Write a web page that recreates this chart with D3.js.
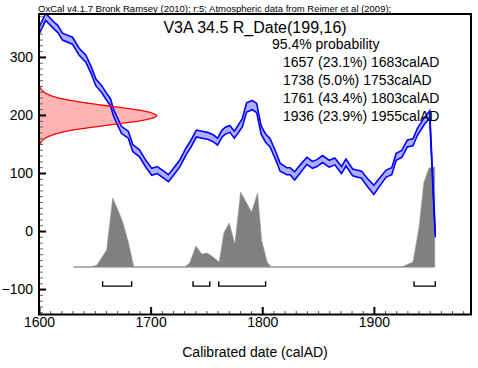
<!DOCTYPE html>
<html><head><meta charset="utf-8">
<script src="https://cdn.jsdelivr.net/npm/d3@7"></script>
<style>body{margin:0;background:#fff}svg{display:block}text{font-family:"Liberation Sans",Arial,sans-serif;fill:#000}</style>
</head><body><svg id="c" width="478" height="368"></svg>
<script>
// ---- data ----
const headerText = "OxCal v4.1.7 Bronk Ramsey (2010); r:5; Atmospheric data from Reimer et al (2009);";
const titleText = "V3A 34.5 R_Date(199,16)";
const probLabel = "95.4% probability";
const rangeFrom = [1657, 1738, 1761, 1936];
const rangeTo = [1683, 1753, 1803, 1955];
const rangePct = ["23.1%", "5.0%", "43.4%", "23.9%"];
const xTicks = [1600, 1700, 1800, 1900];
const yTicks = [-100, 0, 100, 200, 300];
const xLabel = "Calibrated date (calAD)";

// calibration curve
const calYears = [1600,1606,1614,1617,1621,1630,1636,1642,1647,1651,1656,1660,1664,1667,1671,1674,1680,1684,1690,1696,1701,1706,1711,1716,1720,1726,1732,1736,1741,1746,1751,1756,1760,1764,1767,1771,1775,1782,1786,1791,1795,1799,1803,1807,1812,1816,1822,1825,1829,1834,1840,1845,1849,1854,1860,1865,1871,1875,1881,1889,1894,1900,1905,1911,1916,1920,1925,1930,1935,1939,1945,1950,1955];
const calValues = [345,369,353,348,335,328,309,297,276,256,245,233,222,203,186,174,166,143,134,115,102,105,98,91,101,116,138,150,168,166,164,160,154,168,173,176,166,186,213,217,212,174,160,152,130,110,103,103,95,107,121,114,117,124,116,120,105,118,101,97,84,71,84,99,103,128,133,151,153,171,189,201,-8];
const calSigmas = [6,6,6,6,6,6,6,6,6,6,6,6,6,6,6,6,6,6,6,6,6,6,6,6,6,6,6,6,6,6,6,6,6,6,6,6,6,7,8,8,8,7,7,7,7,7,6,6,7,7,6,6,6,6,6,6,6,6,6,6,7,8,7,6,6,6,6,6,6,6,6,6,3];

// radiocarbon measurement R_Date(199,16): relative likelihood at each age
const c14Ages = [147,150,155,160,165,170,175,180,185,190,195,199,205,210,215,220,225,230,235,240,245,250];
const c14Dens = [0.005,0.009,0.023,0.051,0.105,0.193,0.325,0.494,0.682,0.854,0.969,1.0,0.932,0.789,0.607,0.423,0.267,0.153,0.080,0.038,0.016,0.006];

// posterior calibrated distribution (relative heights)
const distYears = [1631,1647,1652,1660.6,1666,1670.7,1675,1680,1685,1730.7,1735,1740.6,1745.7,1750.7,1756,1761.4,1765.6,1770.4,1775.5,1780.6,1790.4,1795.8,1799.4,1804.4,1808,1925,1935,1940.5,1944.7,1949.4,1954.5,1954.5];
const distProbs = [0,0,2,17,69,57,45,25,0,0,4,21,13,14,10,5,34,44,23,75,55,74,27,5,0,0,5,40,84,99,100,0];

// ---- drawing ----
const svg = d3.select("#c");
const L = 39, R = 471, T = 14, B = 314;
const x = d3.scaleLinear().domain([1600, 1987]).range([L, R]);
const y = d3.scaleLinear().domain([-143, 374]).range([B, T]);

svg.append("defs").append("clipPath").attr("id","clip")
  .append("rect").attr("x",L).attr("y",T).attr("width",R-L).attr("height",B-T);
const plot = svg.append("g").attr("clip-path","url(#clip)");

// distribution
const baseV = -62;
const py = d3.scaleLinear().domain([0,100]).range([y(baseV), y(baseV)-100]);
plot.append("line").attr("x1",x(distYears[0])).attr("x2",x(distYears[distYears.length-1]))
  .attr("y1",py(0)).attr("y2",py(0)).attr("stroke","#c4c4c4").attr("stroke-width",2);
const dist = distYears.map((t,i)=>({t, p: distProbs[i]}));
plot.append("path").datum(dist)
  .attr("d", d3.area().x(d=>x(d.t)).y0(py(0)).y1(d=>py(d.p)))
  .attr("fill","#808080").attr("stroke","#9a9a9a").attr("stroke-width",0.6);

// brackets
const brY = y(-95);
rangeFrom.forEach((f,i)=>{
  plot.append("path")
    .attr("d", `M${x(f)},${brY-5}V${brY}H${x(rangeTo[i])}V${brY-5}`)
    .attr("fill","none").attr("stroke","#000").attr("stroke-width",1.4);
});

// red likelihood
const rx = d3.scaleLinear().domain([0,1]).range([L, 157]);
const c14 = c14Ages.map((v,i)=>({v, p: c14Dens[i]}));
plot.append("path").datum(c14)
  .attr("d", d3.area().y(d=>y(d.v)).x0(L).x1(d=>rx(d.p)).curve(d3.curveCatmullRom))
  .attr("fill","#ffb4b4");

// calibration curve band
const cal = calYears.map((t,i)=>({t, v: calValues[i], s: calSigmas[i]}));
plot.append("path").datum(cal)
  .attr("d", d3.area().x(d=>x(d.t)).y0(d=>y(d.v-d.s)).y1(d=>y(d.v+d.s)))
  .attr("fill","#aeaeff");
["+","-"].forEach(sg=>{
  plot.append("path").datum(cal)
    .attr("d", d3.line().x(d=>x(d.t)).y(d=>y(sg==="+" ? d.v+d.s : d.v-d.s)))
    .attr("fill","none").attr("stroke","#0000ff").attr("stroke-width",1.6);
});
plot.append("path").datum(c14)
  .attr("d", d3.line().y(d=>y(d.v)).x(d=>rx(d.p)).curve(d3.curveCatmullRom))
  .attr("fill","none").attr("stroke","#ff0000").attr("stroke-width",1.3);

// texts
svg.append("text").attr("x",L-1).attr("y",12).attr("font-size","9.5px").text(headerText);
svg.append("text").attr("x",(L+R)/2).attr("y",33).attr("text-anchor","middle").attr("font-size","16px").text(titleText);
svg.append("text").attr("x",272).attr("y",49).attr("font-size","14px").text(probLabel);
rangeFrom.forEach((f,i)=>{
  svg.append("text").attr("x",283).attr("y",67+18*i).attr("font-size","14px")
    .text(`${f} (${rangePct[i]}) ${rangeTo[i]}calAD`);
});
svg.append("text").attr("x",(L+R)/2).attr("y",357).attr("text-anchor","middle").attr("font-size","14px").text(xLabel);

// axes
const xMinor = d3.range(1610, 1987, 10).filter(v=>v%100!==0);
const yMinor = d3.range(-140, 374, 10).filter(v=>v%100!==0);
svg.append("g").attr("transform",`translate(0,${B})`)
  .call(d3.axisBottom(x).tickValues(xMinor).tickSize(-3).tickFormat(""))
  .call(g=>{g.select(".domain").remove(); g.selectAll("line").attr("stroke","#555");});
svg.append("g").attr("transform",`translate(${L},0)`)
  .call(d3.axisLeft(y).tickValues(yMinor).tickSize(-4).tickFormat(""))
  .call(g=>{g.select(".domain").remove(); g.selectAll("line").attr("stroke","#666");});
svg.append("g").attr("transform",`translate(0,${B})`)
  .call(d3.axisBottom(x).tickValues(xTicks).tickSize(-7).tickPadding(3).tickFormat(d3.format("d")))
  .call(g=>{g.select(".domain").remove(); g.selectAll("line").attr("stroke","#000").attr("stroke-width",2);
    g.selectAll("text").attr("font-size","14px").attr("font-family",null).attr("fill","#000");});
svg.append("g").attr("transform",`translate(${L},0)`)
  .call(d3.axisLeft(y).tickValues(yTicks).tickSize(-7).tickPadding(6).tickFormat(d3.format("d")))
  .call(g=>{g.select(".domain").remove(); g.selectAll("line").attr("stroke","#000").attr("stroke-width",2);
    g.selectAll("text").attr("font-size","14px").attr("font-family",null).attr("fill","#000");});

// frame
svg.append("rect").attr("x",L).attr("y",T).attr("width",R-L).attr("height",B-T+0.5)
  .attr("fill","none").attr("stroke","#000").attr("stroke-width",2);
</script></body></html>
